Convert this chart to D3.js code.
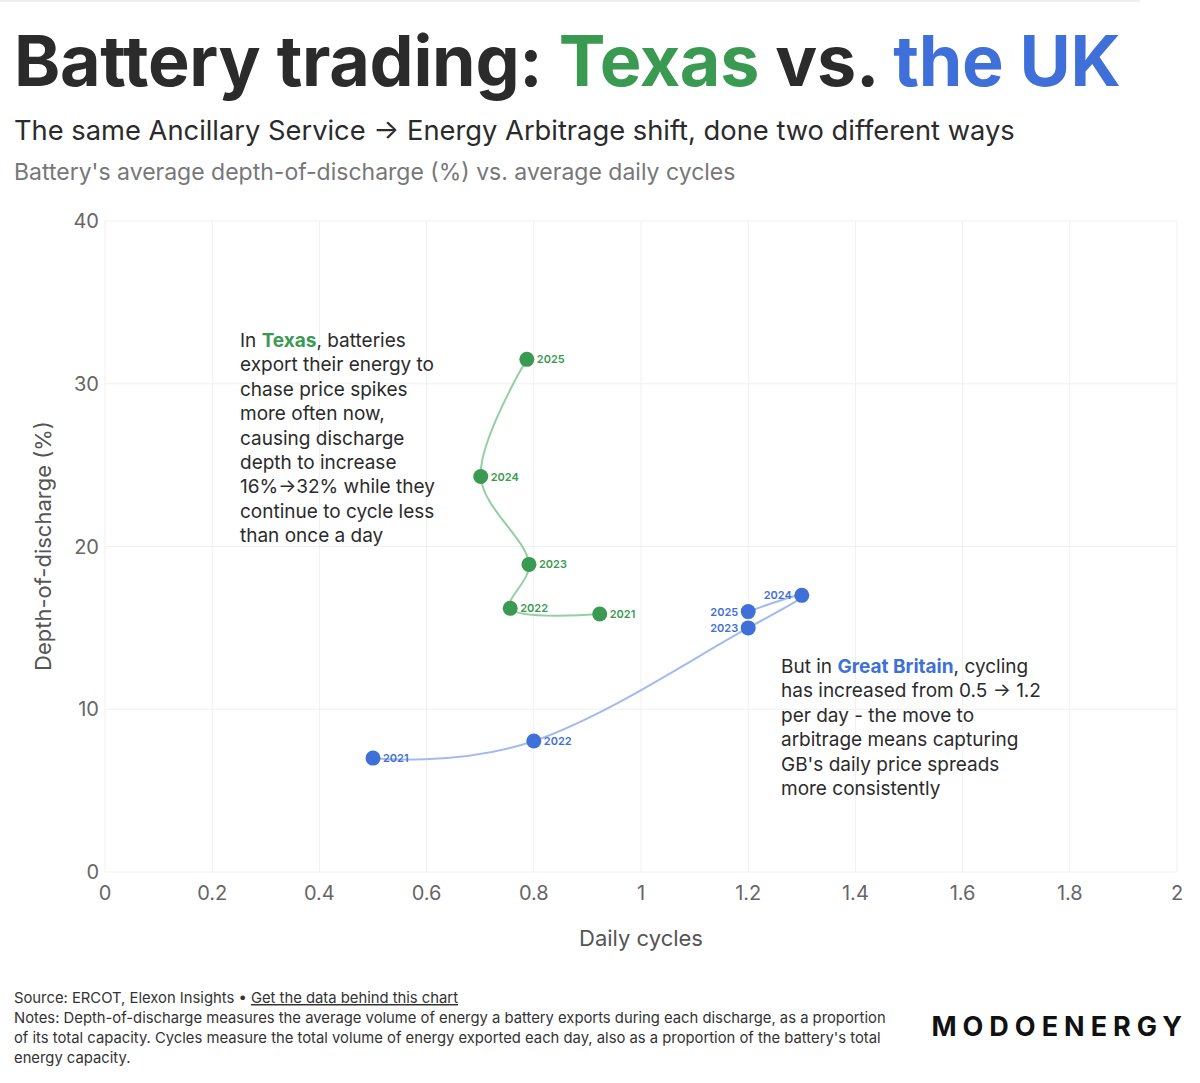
<!DOCTYPE html>
<html><head><meta charset="utf-8">
<script src="https://cdn.jsdelivr.net/npm/d3@7"></script>
<style>body{margin:0;background:#fff;font-family:Inter,"Noto Sans",sans-serif}</style>
</head><body><svg id="c" width="1200" height="1083"></svg>
<script>
const years=["2021","2022","2023","2024","2025"];
const texasCycles=[0.923,0.756,0.791,0.701,0.787];
const texasDoD=[15.85,16.2,18.9,24.3,31.5];
const ukCycles=[0.5,0.8,1.2,1.3,1.2];
const ukDoD=[7.0,8.05,15.0,17.0,16.0];
const ukLabelLeft=[false,false,true,true,true];
const xTicks=[0,0.2,0.4,0.6,0.8,1,1.2,1.4,1.6,1.8,2];
const yTicks=[0,10,20,30,40];
const green="#3a9a52",blue="#3f6fd8",lgreen="#94cf9f",lblue="#a4baef";
const svg=d3.select("#c");
svg.append("line").attr("x1",0).attr("x2",1140).attr("y1",1).attr("y2",1).attr("stroke","#ddd");
const t=svg.append("text").attr("x",14).attr("y",86).attr("font-size",70).attr("font-weight",700).attr("letter-spacing",-0.3).attr("fill","#2b2b2b");
t.append("tspan").text("Battery trading: ");t.append("tspan").attr("fill",green).text("Texas");
t.append("tspan").text(" vs. ");t.append("tspan").attr("fill",blue).text("the UK");
svg.append("text").attr("x",14).attr("y",140).attr("font-size",27.3).attr("fill","#2b2b2b").text("The same Ancillary Service → Energy Arbitrage shift, done two different ways");
svg.append("text").attr("x",14).attr("y",180).attr("font-size",23).attr("fill","#777").text("Battery's average depth-of-discharge (%) vs. average daily cycles");
const x=d3.scaleLinear().domain([0,2]).range([105,1177]);
const y=d3.scaleLinear().domain([0,40]).range([872,221]);
const g=svg.append("g");
xTicks.forEach(v=>{g.append("line").attr("x1",x(v)).attr("x2",x(v)).attr("y1",221).attr("y2",872).attr("stroke","#f0f0f0");
 g.append("text").attr("x",x(v)).attr("y",900).attr("text-anchor","middle").attr("font-size",20).attr("fill","#666").text(String(v));});
yTicks.forEach(v=>{g.append("line").attr("x1",105).attr("x2",1177).attr("y1",y(v)).attr("y2",y(v)).attr("stroke","#f0f0f0");
 g.append("text").attr("x",99).attr("y",y(v)+7).attr("text-anchor","end").attr("font-size",20).attr("fill","#666").text(v);});
svg.append("text").attr("x",641).attr("y",946).attr("text-anchor","middle").attr("font-size",22).attr("fill","#555").text("Daily cycles");
svg.append("text").attr("transform","translate(51,546) rotate(-90)").attr("text-anchor","middle").attr("font-size",22).attr("fill","#555").text("Depth-of-discharge (%)");
function series(cx,cy,col,lcol,left,curve){
 const pts=cx.map((v,i)=>[x(v),y(cy[i])]);
 svg.append("path").attr("d",d3.line().curve(curve)(pts)).attr("fill","none").attr("stroke",lcol).attr("stroke-width",2);
 pts.forEach((p,i)=>{svg.append("circle").attr("cx",p[0]).attr("cy",p[1]).attr("r",7.5).attr("fill",col);
  const l=left&&left[i];
  svg.append("text").attr("x",p[0]+(l?-10:10)).attr("y",p[1]+4).attr("text-anchor",l?"end":"start").attr("font-size",11).attr("font-weight",600).attr("fill",col).text(years[i]);});
}
series(texasCycles,texasDoD,green,lgreen,null,d3.curveCatmullRom.alpha(0.5));
series(ukCycles,ukDoD,blue,lblue,ukLabelLeft,d3.curveCardinal.tension(-0.2));
function para(x0,y0,lines){lines.forEach((ln,i)=>{const tx=svg.append("text").attr("x",x0).attr("y",y0+i*24.4).attr("font-size",19).attr("fill","#2b2b2b");
 ln.forEach(s=>{const sp=tx.append("tspan").text(s.t);if(s.c)sp.attr("fill",s.c).attr("font-weight",700);});});}
para(240,347,[[{t:"In "},{t:"Texas",c:green},{t:", batteries"}],[{t:"export their energy to"}],[{t:"chase price spikes"}],[{t:"more often now,"}],[{t:"causing discharge"}],[{t:"depth to increase"}],[{t:"16%→32% while they"}],[{t:"continue to cycle less"}],[{t:"than once a day"}]]);
para(781,673,[[{t:"But in "},{t:"Great Britain",c:blue},{t:", cycling"}],[{t:"has increased from 0.5 → 1.2"}],[{t:"per day - the move to"}],[{t:"arbitrage means capturing"}],[{t:"GB's daily price spreads"}],[{t:"more consistently"}]]);
const f=svg.append("g").attr("font-size",14.8).attr("fill","#333");
const s1=f.append("text").attr("x",14).attr("y",1003);
s1.append("tspan").text("Source: ERCOT, Elexon Insights • ");
s1.append("tspan").attr("text-decoration","underline").text("Get the data behind this chart");
["Notes: Depth-of-discharge measures the average volume of energy a battery exports during each discharge, as a proportion",
 "of its total capacity. Cycles measure the total volume of energy exported each day, also as a proportion of the battery's total",
 "energy capacity."].forEach((s,i)=>f.append("text").attr("x",14).attr("y",1023+i*20).text(s));
svg.append("text").attr("x",1188).attr("y",1036).attr("text-anchor","end").attr("font-size",27).attr("font-weight",700).attr("letter-spacing",6).attr("fill","#111").text("MODOENERGY");
</script></body></html>
